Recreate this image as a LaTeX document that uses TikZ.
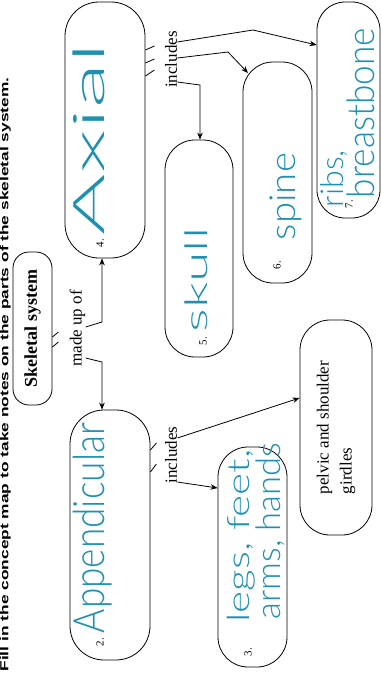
\documentclass[tikz,border=0pt]{standalone}
\usepackage{fontspec}
\usepackage{graphicx}
\setmainfont{Liberation Serif}
\newfontfamily\titlefont{Liberation Sans}
\newfontfamily\handfont{Lato Light}
\usetikzlibrary{arrows.meta,calc}
\definecolor{pen}{RGB}{30,145,178}
\newcommand{\hw}[3]{\resizebox*{#1pt}{#2pt}{\handfont #3}}

\begin{document}
\begin{tikzpicture}[x=1pt,y=-1pt,>={Stealth[length=7pt,width=5.5pt]},
    font=\fontsize{17}{23}\selectfont,
    box/.style={draw,line width=0.8pt,rotate=90,inner sep=0pt},
    lab/.style={rotate=90,inner sep=0pt},
    num/.style={rotate=90,inner sep=0pt,font=\fontsize{11}{13}\selectfont},
    hand/.style={rotate=90,inner sep=0pt,text=pen},
    line width=0.8pt]
    \useasboundingbox (0,0) rectangle (382,673);
    \node[rotate=90,inner sep=0pt,anchor=base east] (title) at (8.5,77)
        {\resizebox{594pt}{8.5pt}{\titlefont\bfseries Fill in the concept map to take notes on the parts of the skeletal system.}};

    \node[box,minimum width=153,minimum height=39,rounded corners=16] (skel) at (32.5,328.5) {\fontsize{18}{20}\selectfont\bfseries Skeletal system};
    \node[box,minimum width=256,minimum height=80,rounded corners=34] (axial) at (105,130) {};
    \node[box,minimum width=250,minimum height=80,rounded corners=34] (append) at (110,535) {};
    \node[box,minimum width=217,minimum height=68,rounded corners=30] (skull) at (199,248.5) {};
    \node[box,minimum width=221,minimum height=69,rounded corners=30] (spine) at (277.5,172.5) {};
    \node[box,minimum width=216,minimum height=63,rounded corners=28] (ribs) at (348.5,110) {};
    \node[box,minimum width=220,minimum height=69,rounded corners=30] (legs) at (252.5,557) {};
    \node[box,minimum width=215,minimum height=72,rounded corners=30,align=left] (pelvic) at (336,427.5) {pelvic and shoulder\\girdles};

    \node[num] (n2) at (100,642) {2.};
    \node[num] (n3) at (248,652) {3.};
    \node[num] (n4) at (100,243) {4.};
    \node[num] (n5) at (203,341) {5.};
    \node[num] (n6) at (277,265) {6.};
    \node[num] (n7) at (349,204) {7.};

    \node[hand] (axialtxt) at (89,139) {\hw{192}{32}{Axial}};
    \node[hand] (appendtxt) at (92.5,528) {\hw{210}{39}{Appendicular}};
    \node[hand] (skulltxt) at (196,280) {\hw{105}{23}{skull}};
    \node[hand] (spinetxt) at (286,196.5) {\hw{87}{32}{spine}};
    \node[hand] (ribstxt) at (333.5,178.5) {\hw{57}{27}{ribs,}};
    \node[hand] (breasttxt) at (361,113) {\hw{170}{28}{breastbone}};
    \node[hand] (legstxt) at (241,536) {\hw{173}{28}{legs, feet,}};
    \node[hand] (armstxt) at (270,531) {\hw{177}{29}{arms, hands}};

    \node[lab] (madeup) at (77.5,328.5) {made up of};
    \node[lab] (inclx) at (171,59.5) {includes};
    \node[lab] (incla) at (171,455) {includes};

    \draw (skel.south |- 0,337) -- ++(6,-5);
    \draw (skel.south |- 0,347) -- ++(6,-5);
    \draw[->] (madeup.south |- 0,327) -- (102,322) -- (102,0 |- axial.west);
    \draw[->] (madeup.south |- 0,358) -- (102,362) -- (102,0 |- append.east);

    \draw (axial.south |- 0,50) -- ++(9,-4);
    \draw (axial.south |- 0,63) -- ++(9,-4);
    \draw (axial.south |- 0,76) -- ++(9,-6);
    \coordinate (spinetop) at (248,73);
    \draw[->] (inclx.south |- 0,42) -- (253,30) -- (ribs.north |- 0,45);
    \draw[->] (inclx.south |- 0,58) -- (228,52) -- (spinetop);
    \draw[->] (inclx.south |- 0,82) -- (200,85) -- (200,0 |- skull.east);

    \draw (append.south |- 0,450) -- ++(6,-7);
    \draw (append.south |- 0,472) -- ++(6,-8);
    \draw[->] (incla.south |- 0,438) -- (pelvic.north |- 0,398);
    \draw[->] (incla.south |- 0,482) -- (legs.north |- 0,488);
\end{tikzpicture}
\end{document}
